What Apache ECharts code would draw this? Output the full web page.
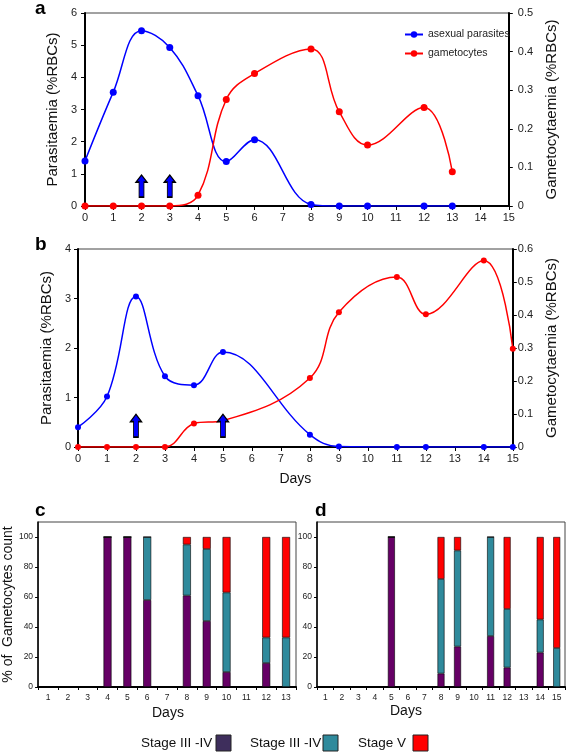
<!DOCTYPE html>
<html><head><meta charset="utf-8">
<script src="https://cdn.jsdelivr.net/npm/echarts@6/dist/echarts.min.js"></script>
<style>html,body{margin:0;padding:0;background:#fff}#c{width:567px;height:753px}</style>
</head><body><div id="c"></div>
<script>
// ---- Panel a ----
const daysA = [0,1,2,3,4,5,6,8,9,10,12,13];
const asexualA = [1.40,3.54,5.45,4.93,3.43,1.38,2.06,0.05,0,0,0,0];
const gametoA = [0,0,0,0,0.028,0.276,0.343,0.407,0.244,0.158,0.255,0.089];
const arrowDaysA = [2,3];
// ---- Panel b ----
const daysB = [0,1,2,3,4,5,8,9,11,12,14,15];
const asexualB = [0.40,1.02,3.04,1.43,1.25,1.92,0.25,0.01,0,0,0,0];
const gametoB = [0,0,0,0,0.071,0.08,0.209,0.408,0.515,0.402,0.565,0.298];
const arrowDaysB = [2,5];
// ---- Panel c ----
const catsC = ['1','2','3','4','5','6','7','8','9','10','11','12','13'];
const c_stage1 = [0,0,0,100,100,58,0,61,44,10,0,16,0];
const c_stage2 = [0,0,0,0,0,42,0,34,48,53,0,17,33];
const c_stage5 = [0,0,0,0,0,0,0,5,8,37,0,67,67];
// ---- Panel d ----
const catsD = ['1','2','3','4','5','6','7','8','9','10','11','12','13','14','15'];
const d_stage1 = [0,0,0,0,100,0,0,9,27,0,34,13,0,23,0];
const d_stage2 = [0,0,0,0,0,0,0,63,64,0,66,39,0,22,26];
const d_stage5 = [0,0,0,0,0,0,0,28,9,0,0,48,0,55,74];
const legendLabels = ['Stage III -IV','Stage III -IV','Stage V'];
const panelLetters = ['a','b','c','d'];

const FONT = 'Liberation Sans, Arial, sans-serif';
const BLUE = '#0000ff', RED = '#ff0000';
const PURPLE = '#660066', TEAL = '#2f8a9c';
const LEG = ['#3e2e5c', TEAL, RED];
const pair = (xs, ys) => xs.map((x,i)=>[x, ys[i]]);
const arrowPath = 'path://M5,0 L10,7 L7.2,7 L7.2,22 L2.8,22 L2.8,7 L0,7 Z';

const lbl = {color:'#222', fontSize:11, fontFamily:FONT};
const axLine = {show:true, lineStyle:{color:'#000', width:2}};
const tick = {show:true, inside:false, length:4, lineStyle:{color:'#000'}};

function valX(grid, name) {
  return {gridIndex:grid, type:'value', min:0, max:15, interval:1,
    axisLine:axLine, axisTick:tick, splitLine:{show:false},
    axisLabel:Object.assign({margin:6}, lbl),
    name:name||'', nameLocation:'middle', nameGap:25,
    nameTextStyle:{fontSize:14, color:'#111', fontFamily:FONT}};
}
function valY(grid, max, interval, name, right, gap, margin) {
  return {gridIndex:grid, type:'value', min:0, max:max, interval:interval,
    position: right ? 'right' : 'left',
    axisLine:axLine, axisTick:tick, splitLine:{show:false},
    axisLabel:Object.assign({margin:margin}, lbl),
    name:name, nameLocation:'middle', nameGap:gap, nameRotate:90,
    nameTextStyle:{fontSize:15, color:'#111', fontFamily:FONT}};
}
function catX(grid, cats) {
  return {gridIndex:grid, type:'category', data:cats,
    axisLine:axLine, axisTick:{show:true, length:3, interval:0, lineStyle:{color:'#000'}},
    axisLabel:{color:'#222', fontSize:8.5, fontFamily:FONT, interval:0, margin:6}};
}
function barY(grid, name) {
  return {gridIndex:grid, type:'value', min:0, max:110,
    axisLine:{show:true, lineStyle:{color:'#000', width:1.5}},
    axisTick:{show:true, length:3, customValues:[0,20,40,60,80,100], lineStyle:{color:'#000'}},
    axisLabel:{color:'#222', fontSize:8.5, fontFamily:FONT, margin:5, customValues:[0,20,40,60,80,100]},
    splitLine:{show:false},
    name:name||'', nameLocation:'middle', nameGap:23,
    nameTextStyle:{fontSize:14, color:'#111', fontFamily:FONT}};
}
function lineS(name, color, xi, yi, data) {
  return {name:name, type:'line', xAxisIndex:xi, yAxisIndex:yi, data:data,
    smooth:0.4, symbol:'circle', symbolSize:7, z:3,
    lineStyle:{color:color, width:1.5}, itemStyle:{color:color}};
}
function arrowS(xi, yi, days, y, h) {
  return {type:'scatter', xAxisIndex:xi, yAxisIndex:yi, z:5,
    data: days.map(d=>[d,y]), symbol:arrowPath, symbolSize:[11,h],
    itemStyle:{color:'#0000ff', opacity:1, borderColor:'#000', borderWidth:1.2},
    emphasis:{disabled:true}};
}
function barS(name, color, xi, yi, data, w) {
  return {name:name, type:'bar', stack:'s'+xi, xAxisIndex:xi, yAxisIndex:yi, data:data,
    barWidth:w, itemStyle:{color:color, borderColor:'#000', borderWidth:0.6}};
}

const gridBox = {show:true, borderColor:'#444', borderWidth:1, backgroundColor:'transparent'};
const graphics = [];
const letterPos = [[35,-1],[35,235],[35,501],[315,501]];
panelLetters.forEach((t,i)=>graphics.push({type:'text', left:letterPos[i][0], top:letterPos[i][1],
  style:{text:t, font:'bold 19px '+FONT, fill:'#000'}}));
graphics.push({type:'text', left:152, top:706, style:{text:'Days', font:'14px '+FONT, fill:'#111'}});
graphics.push({type:'text', left:390, top:704, style:{text:'Days', font:'14px '+FONT, fill:'#111'}});
const legX = [[141,216],[250,323],[358,413]];
legendLabels.forEach((t,i)=>{
  graphics.push({type:'text', left:legX[i][0], top:736, style:{text:t, font:'13.5px '+FONT, fill:'#111'}});
  graphics.push({type:'rect', shape:{x:legX[i][1], y:735, width:15, height:16},
    style:{fill:LEG[i], stroke:'#222', lineWidth:1}});
});

const option = {
  animation:false,
  textStyle:{fontFamily:FONT},
  grid:[
    Object.assign({left:85, top:13, width:433, height:193}, gridBox),
    Object.assign({left:78, top:249, width:435, height:198}, gridBox),
    Object.assign({left:37, top:522, width:259, height:165}, gridBox),
    Object.assign({left:317, top:522, width:248, height:165}, gridBox)
  ],
  legend:{data:['asexual parasites','gametocytes'], orient:'vertical', left:399, top:24,
    itemWidth:18, itemHeight:8, itemGap:8, textStyle:{fontSize:10.5, color:'#222', fontFamily:FONT}},
  xAxis:[valX(0), valX(1,'Days'), catX(2,catsC), catX(3,catsD)],
  yAxis:[
    valY(0,6,1,'Parasitaemia (%RBCs)',false,21,8),
    valY(0,0.5,0.1,'Gametocytaemia (%RBCs)',true,30,9),
    valY(1,4,1,'Parasitaemia (%RBCs)',false,15,7),
    valY(1,0.6,0.1,'Gametocytaemia (%RBCs)',true,31,5),
    barY(2,'% of  Gametocytes count'),
    barY(3,'')
  ],
  graphic:graphics,
  series:[
    lineS('asexual parasites', BLUE, 0, 0, pair(daysA, asexualA)),
    lineS('gametocytes', RED, 0, 1, pair(daysA, gametoA)),
    arrowS(0, 0, arrowDaysA, 0.62, 22),
    Object.assign(lineS('asexual parasites', BLUE, 1, 2, pair(daysB, asexualB)),{symbolSize:6}),
    Object.assign(lineS('gametocytes', RED, 1, 3, pair(daysB, gametoB)),{symbolSize:6}),
    arrowS(1, 2, arrowDaysB, 0.43, 23),
    barS('Stage III -IV', PURPLE, 2, 4, c_stage1, 8),
    barS('Stage III -IV ', TEAL, 2, 4, c_stage2, 8),
    barS('Stage V', RED, 2, 4, c_stage5, 8),
    barS('Stage III -IV', PURPLE, 3, 5, d_stage1, 7),
    barS('Stage III -IV ', TEAL, 3, 5, d_stage2, 7),
    barS('Stage V', RED, 3, 5, d_stage5, 7)
  ]
};
const chart = echarts.init(document.getElementById('c'));
chart.setOption(option);
</script></body></html>
